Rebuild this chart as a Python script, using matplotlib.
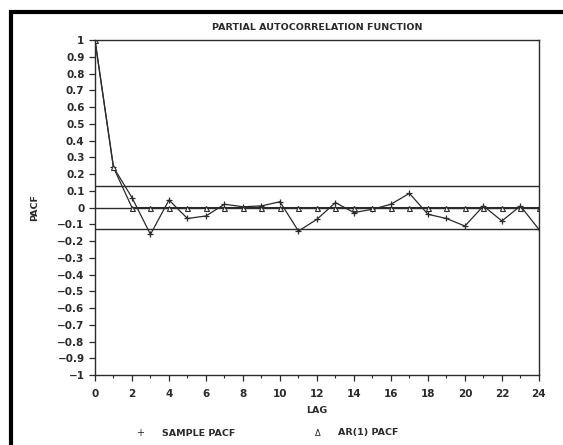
import numpy as np
import matplotlib.pyplot as plt
from matplotlib.patches import Rectangle

# lags and PACF values
lags = np.arange(0, 25)
sample_pacf = [1.0, 0.24, 0.06, -0.16, 0.045, -0.065, -0.05, 0.02, 0.005, 0.01,
               0.035, -0.14, -0.07, 0.03, -0.03, -0.01, 0.02, 0.085, -0.04, -0.065,
               -0.11, 0.01, -0.08, 0.01, -0.13]
ar1_pacf = [1.0, 0.24] + [0.0] * 23
conf_band = 0.13

ink = '#2a2a2a'
plt.rcParams['font.family'] = 'DejaVu Sans'

fig = plt.figure(figsize=(5.63, 4.45), dpi=100)
ax = fig.add_axes([0.1687, 0.157, 0.7885, 0.753])

# outer frame of the scanned figure
fig.patches.append(Rectangle((10.5 / 563, -0.1), 1.2, 1.1 - 12 / 445,
                             transform=fig.transFigure, fill=False,
                             edgecolor='black', linewidth=3))

ax.axhline(0, color=ink, lw=1.0)
ax.axhline(conf_band, color=ink, lw=1.0)
ax.axhline(-conf_band, color=ink, lw=1.0)

ax.plot(lags, sample_pacf, color=ink, lw=0.9, marker='+', ms=5, mew=0.9)
ax.plot(lags, ar1_pacf, color=ink, lw=0.9, marker='^', ms=3.6, mfc='white', mew=0.8)

ax.set_xlim(0, 24)
ax.set_ylim(-1, 1)
ax.set_xticks(np.arange(0, 25, 2))
ax.set_xticks(np.arange(0, 25, 1), minor=True)
yt = np.round(np.arange(-1, 1.01, 0.1), 1)
ax.set_yticks(yt)
ax.set_yticklabels([f'{v:g}'.replace('-', '\u2212') if v != 0 else '0' for v in yt])

for s in ax.spines.values():
    s.set_color(ink)
    s.set_linewidth(1.0)
ax.tick_params(axis='both', which='major', direction='out', length=4, width=0.9,
               color=ink, labelsize=7.5, labelcolor=ink)
ax.tick_params(axis='x', which='minor', direction='out', length=2.5, width=0.8, color=ink)
ax.tick_params(axis='x', pad=6)
for lab in ax.get_xticklabels() + ax.get_yticklabels():
    lab.set_fontweight('bold')

ax.set_title('PARTIAL AUTOCORRELATION FUNCTION', fontsize=6.8, fontweight='bold',
             color=ink, pad=7)
ax.set_xlabel('LAG', fontsize=6.8, fontweight='bold', color=ink, labelpad=5)
ax.set_ylabel('PACF', fontsize=6.8, fontweight='bold', color=ink, labelpad=13)

# legend row beneath the axis label
fig.text(140 / 563, 1 - 433 / 445, '+', fontsize=7, color=ink, ha='center', va='center')
fig.text(162 / 563, 1 - 433 / 445, 'SAMPLE PACF', fontsize=6.8, fontweight='bold',
         color=ink, ha='left', va='center')
fig.text(318 / 563, 1 - 433 / 445, '\u0394', fontsize=6, color=ink, ha='center', va='center')
fig.text(338 / 563, 1 - 433 / 445, 'AR(1) PACF', fontsize=6.8, fontweight='bold',
         color=ink, ha='left', va='center')

fig.savefig('out.png', dpi=100)
